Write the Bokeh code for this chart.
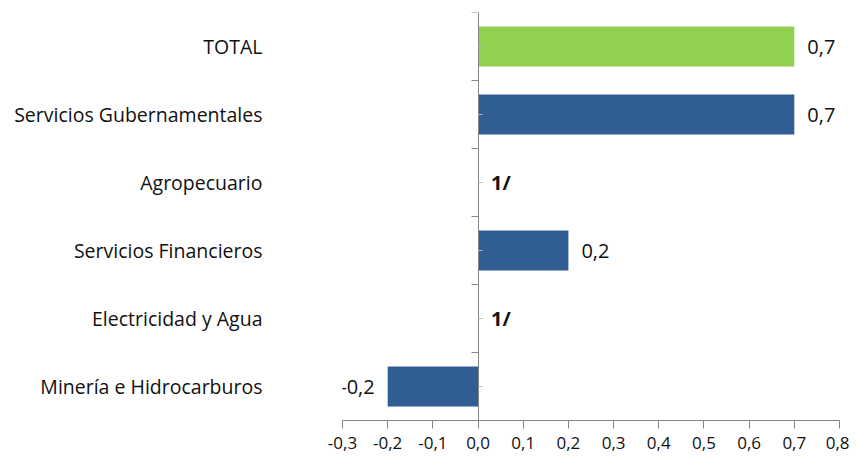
from bokeh.plotting import figure
from bokeh.models import (ColumnDataSource, Range1d, FixedTicker, LinearAxis)
from bokeh.core.properties import value
from bokeh.embed import file_html
from bokeh.resources import INLINE

# ---- data ----
categories = ["TOTAL", "Servicios Gubernamentales", "Agropecuario",
              "Servicios Financieros", "Electricidad y Agua",
              "Minería e Hidrocarburos"]
values = [0.7, 0.7, 0.0, 0.2, 0.0, -0.2]
value_labels = ["0,7", "0,7", "1/", "0,2", "1/", "-0,2"]
x_ticks = [-0.3, -0.2, -0.1, 0.0, 0.1, 0.2, 0.3, 0.4, 0.5, 0.6, 0.7, 0.8]
x_tick_labels = ["-0,3", "-0,2", "-0,1", "0,0", "0,1", "0,2", "0,3",
                 "0,4", "0,5", "0,6", "0,7", "0,8"]

# ---- styling ----
GREEN = "#92D050"
BLUE = "#2F5D94"
AXIS = "#868686"
FONT = "Open Sans"

n = len(categories)
pos = [n - i - 0.5 for i in range(n)]
colors = [GREEN if c == "TOTAL" else BLUE for c in categories]

src = ColumnDataSource(dict(
    y=pos, v=values, color=colors, lab=value_labels,
    align=["right" if v < 0 else "left" for v in values],
    xoff=[-13 if v < 0 else 13 for v in values],
    fstyle=["bold" if l == "1/" else "normal" for l in value_labels],
))

p = figure(width=849, height=456, output_backend="svg", toolbar_location=None,
           x_range=Range1d(x_ticks[0], x_ticks[-1]), y_range=Range1d(0, n),
           min_border_left=342, min_border_right=10, min_border_top=12,
           min_border_bottom=36)
p.outline_line_color = None
p.grid.visible = False
p.background_fill_color = "white"

p.hbar(y="y", left=0, right="v", height=0.59, fill_color="color",
       line_color=None, source=src)

p.text(x="v", y="y", text="lab", source=src, text_align="align",
       text_baseline="middle", x_offset="xoff", text_font=value(FONT),
       text_font_size="20px", text_color="#111111", text_font_style="fstyle")

# x axis
xa = p.xaxis[0]
xa.ticker = FixedTicker(ticks=x_ticks)
xa.major_label_overrides = {t: l for t, l in zip(x_ticks, x_tick_labels)}
xa.axis_line_color = AXIS
xa.major_tick_line_color = AXIS
xa.major_tick_out = 8
xa.major_tick_in = 0
xa.minor_tick_line_color = None
xa.major_label_standoff = 8
xa.major_label_text_font = FONT
xa.major_label_text_font_size = "17px"
xa.major_label_text_color = "#111111"

# category labels axis
ya = p.yaxis[0]
ya.ticker = FixedTicker(ticks=pos)
ya.major_label_overrides = {y: c for y, c in zip(pos, categories)}
ya.axis_line_color = None
ya.major_tick_line_color = None
ya.minor_tick_line_color = None
ya.major_tick_out = 0
ya.major_label_standoff = 80
ya.major_label_text_font = FONT
ya.major_label_text_font_size = "19.5px"
ya.major_label_text_color = "#111111"

# vertical axis at x = 0 with ticks at category boundaries
za = LinearAxis(fixed_location=0,
                ticker=FixedTicker(ticks=list(range(n + 1)), minor_ticks=pos),
                major_label_text_font_size="0px",
                axis_line_color=AXIS, major_tick_line_color=AXIS,
                major_tick_out=7, major_tick_in=0,
                minor_tick_line_color="#BBBBBB", minor_tick_in=4,
                minor_tick_out=0)
za.major_label_text_color = None
p.add_layout(za, "left")

open("out.html", "w").write(file_html(p, INLINE))
